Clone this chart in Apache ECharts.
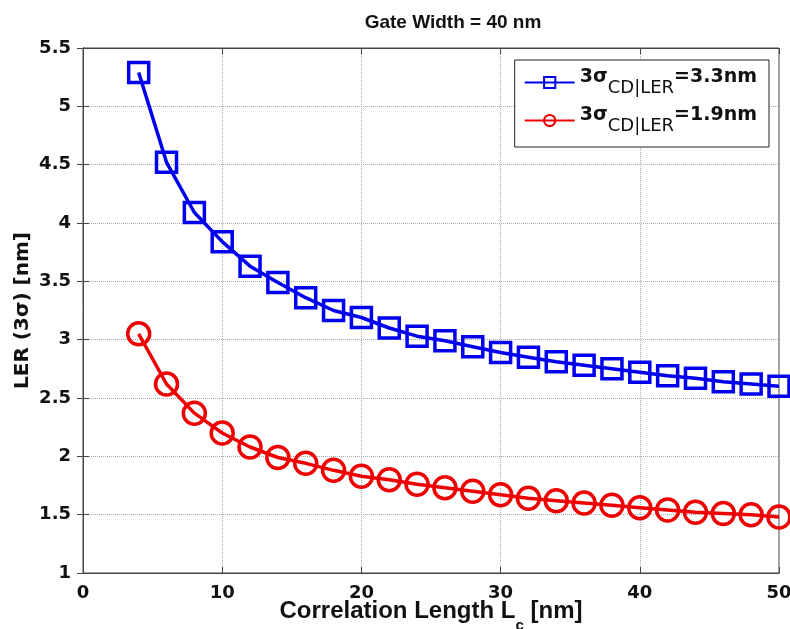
<!DOCTYPE html>
<html>
<head>
<meta charset="utf-8">
<script src="https://cdn.jsdelivr.net/npm/echarts@6/dist/echarts.min.js"></script>
<style>
  html, body { margin: 0; padding: 0; background: #fff; }
  #chart { width: 790px; height: 629px; }
</style>
</head>
<body>
<div id="chart"></div>
<script>
// correlation length Lc [nm]
var lc = [4, 6, 8, 10, 12, 14, 16, 18, 20, 22, 24, 26, 28, 30, 32, 34, 36, 38, 40, 42, 44, 46, 48, 50];
// 3sigma CD|LER = 3.3nm
var ler33 = [5.29, 4.52, 4.09, 3.84, 3.63, 3.49, 3.36, 3.25, 3.19, 3.10, 3.03, 2.99, 2.94, 2.89, 2.85, 2.81, 2.78, 2.75, 2.72, 2.69, 2.67, 2.64, 2.62, 2.60];
// 3sigma CD|LER = 1.9nm
var ler19 = [3.05, 2.62, 2.37, 2.20, 2.08, 1.99, 1.94, 1.88, 1.83, 1.80, 1.76, 1.73, 1.70, 1.67, 1.64, 1.62, 1.60, 1.58, 1.56, 1.54, 1.52, 1.51, 1.50, 1.48];
var seriesNames = ['3.3nm', '1.9nm'];

function pairs(xs, ys) {
  return xs.map(function (x, i) { return [x, ys[i]]; });
}

var sans = '"Liberation Sans", Arial, sans-serif';
var wide = '"DejaVu Sans", sans-serif';
var chart = echarts.init(document.getElementById('chart'));

var option = {
  animation: false,
  title: {
    text: 'Gate Width = 40 nm',
    left: 448,
    textAlign: 'center',
    top: 8,
    textStyle: { fontSize: 19, fontWeight: 'bold', color: '#111', fontFamily: sans }
  },
  legend: {
    right: 21,
    top: 60,
    orient: 'vertical',
    backgroundColor: '#fff',
    borderColor: '#222',
    borderWidth: 1,
    padding: [8, 12, 12, 9],
    itemGap: 9,
    itemWidth: 50,
    itemHeight: 14,
    data: seriesNames,
    formatter: function (name) {
      return '{a|3σ}{s|CD|LER}{a|=' + name + '}';
    },
    textStyle: {
      rich: {
        a: { fontSize: 19, fontWeight: 'bold', color: '#111', fontFamily: wide, verticalAlign: 'top', lineHeight: 20 },
        s: { fontSize: 18, color: '#111', fontFamily: wide, verticalAlign: 'bottom', lineHeight: 29 }
      }
    }
  },
  grid: {
    left: 83,
    right: 11,
    top: 48,
    bottom: 56,
    outerBoundsMode: 'none',
    show: true,
    borderColor: '#444',
    borderWidth: 1
  },
  xAxis: [{
    type: 'value',
    min: 0,
    max: 50,
    interval: 10,
    name: '{a|Correlation Length L}{s|c}{a| [nm]}',
    nameLocation: 'middle',
    nameGap: 26,
    nameMoveOverlap: false,
    nameTextStyle: {
      rich: {
        a: { fontSize: 24, fontWeight: 'bold', color: '#111', fontFamily: sans, verticalAlign: 'top', lineHeight: 24 },
        s: { fontSize: 15, fontWeight: 'bold', color: '#111', fontFamily: sans, verticalAlign: 'bottom', lineHeight: 34 }
      }
    },
    axisLine: { show: true, lineStyle: { color: '#444' } },
    axisTick: { inside: true, length: 6, lineStyle: { color: '#444' } },
    axisLabel: { fontSize: 18, fontWeight: 'bold', color: '#111', fontFamily: wide, margin: 11 },
    splitLine: { show: true, lineStyle: { type: 'dotted', color: '#aaa', width: 1 } }
  }, {
    type: 'value',
    position: 'top',
    min: 0,
    max: 50,
    interval: 10,
    axisLine: { show: true, lineStyle: { color: '#444' } },
    axisTick: { inside: true, length: 6, lineStyle: { color: '#444' } },
    axisLabel: { show: false },
    splitLine: { show: false }
  }],
  yAxis: [{
    type: 'value',
    min: 1,
    max: 5.5,
    interval: 0.5,
    name: 'LER (3σ) [nm]',
    nameLocation: 'middle',
    nameGap: 50,
    nameMoveOverlap: false,
    nameTextStyle: { fontSize: 20, fontWeight: 'bold', color: '#111', fontFamily: wide },
    axisLine: { show: true, lineStyle: { color: '#444' } },
    axisTick: { inside: true, length: 6, lineStyle: { color: '#444' } },
    axisLabel: { fontSize: 18, fontWeight: 'bold', color: '#111', fontFamily: wide, margin: 12 },
    splitLine: { show: true, lineStyle: { type: 'dotted', color: '#aaa', width: 1 } }
  }, {
    type: 'value',
    position: 'right',
    min: 1,
    max: 5.5,
    interval: 0.5,
    axisLine: { show: true, lineStyle: { color: '#444' } },
    axisTick: { inside: true, length: 6, lineStyle: { color: '#444' } },
    axisLabel: { show: false },
    splitLine: { show: false }
  }],
  series: [{
    name: seriesNames[0],
    type: 'line',
    data: pairs(lc, ler33),
    symbol: 'rect',
    symbolSize: 20,
    showAllSymbol: true,
    color: '#0000ee',
    lineStyle: { color: '#0000ee', width: 3.5 },
    itemStyle: { color: 'rgba(0,0,0,0)', borderColor: '#0000ee', borderWidth: 3.5 },
    z: 3
  }, {
    name: seriesNames[1],
    type: 'line',
    data: pairs(lc, ler19),
    symbol: 'circle',
    symbolSize: 22,
    showAllSymbol: true,
    color: '#ee0000',
    lineStyle: { color: '#ee0000', width: 3.5 },
    itemStyle: { color: 'rgba(0,0,0,0)', borderColor: '#ee0000', borderWidth: 3.5 },
    z: 3
  }]
};

chart.setOption(option);
</script>
</body>
</html>
